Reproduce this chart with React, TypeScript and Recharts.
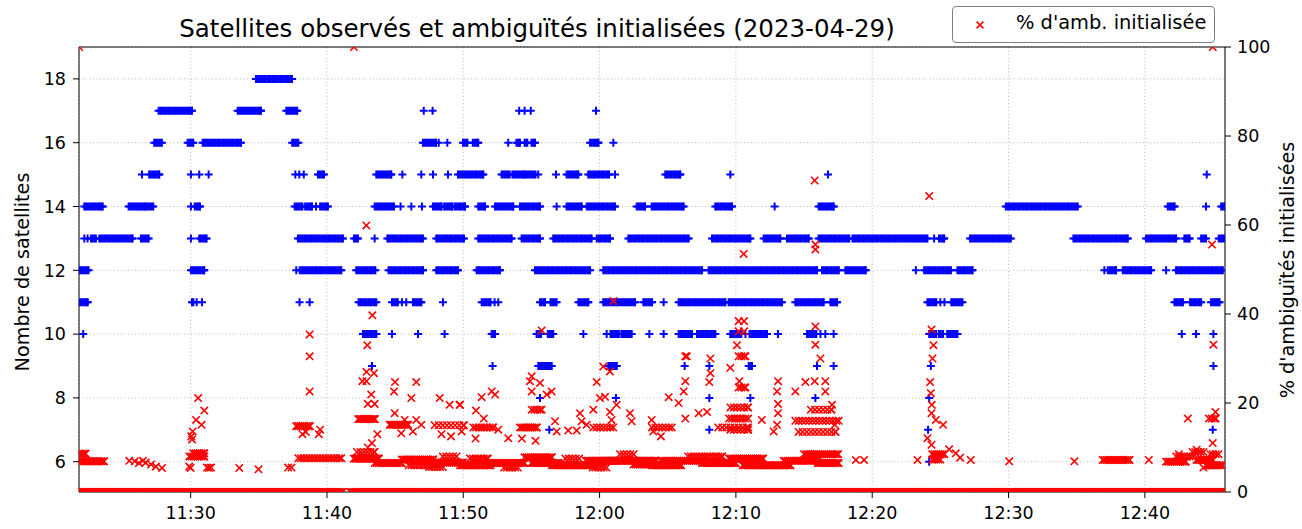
import { ScatterChart, Scatter, XAxis, YAxis, CartesianGrid, Legend, ReferenceLine } from 'recharts'

// time is in minutes after 11:00; a pair is a run of consecutive epochs
type Run = number | [number, number]

const sat6: Run[] = [55.63, 84.18]
const sat7: Run[] = [56.31, 68.05, 84.1, 104.98]
const sat8: Run[] = [55.63, 61.2, 68.05, 71.06, 75.83, 84.18]
const sat9: Run[] = [43.3, 52.15, [55.5, 56.48], [60.64, 61.25], 66.24, 68.05, [70.94, 71.18], 75.95, 77.17, 84.3, 105.03]
const sat10: Run[] = [
  22.12, [42.64, 43.62], 44.77, 46.68, 48.63, [52.08, 52.33], [55.38, 55.7], [56.2, 56.6], 58.81, 60.52,
  [60.8, 61.4], [61.6, 62.35], 63.65, 64.7, [65.8, 66.78], [67.15, 68.49], [69.59, 70.4], 70.7, [71.0, 72.28],
  73.09, [75.22, 75.9], 76.2, 76.56, 77.17, [84.18, 84.7], [84.9, 85.2], [85.5, 86.25], 102.71, 103.76, 105.03,
]
const sat11: Run[] = [
  [21.83, 22.44], [30.1, 30.2], 30.44, 30.83, 37.99, 38.73, [42.32, 43.62], [44.77, 45.2], 45.5, 45.82,
  [46.31, 46.92], 48.51, [51.35, 52.0], 52.3, 52.57, [55.63, 56.0], [56.4, 56.85], [58.44, 59.17], [60.27, 62.6],
  [63.21, 63.85], 64.7, [65.8, 69.23], [69.47, 73.38], [74.36, 76.44], [76.93, 77.42], [84.05, 84.7], 85.0, 85.3,
  [85.8, 86.62], [102.17, 102.78], [103.32, 104.13], [104.86, 105.47],
]
const sat12: Run[] = [
  [21.83, 22.51], [30.02, 31.0], 37.75, [38.0, 41.05], [42.15, 43.55], [44.52, 47.04], [48.02, 49.61],
  [50.98, 52.69], [55.26, 59.3], [60.27, 67.51], [68.0, 75.95], [76.32, 77.54], [78.03, 79.53], 83.2,
  [83.81, 85.77], [86.25, 87.36], 97.03, [97.28, 97.89], [98.38, 100.46], 101.56, [102.29, 105.72],
]
const sat13: Run[] = [
  22.2, 22.44, [22.69, 23.05], [23.3, 25.74], [26.35, 26.92], 30.02, [30.63, 31.17], [37.87, 41.17],
  [41.98, 42.27], 43.5, [44.43, 47.04], [48.02, 50.05], [51.1, 53.55], [54.28, 55.63], [56.6, 59.42],
  [59.79, 60.76], [62.11, 66.54], [68.25, 71.06], [72.04, 73.26], [73.75, 75.34], [76.07, 78.31],
  [78.55, 84.05], 84.54, [84.9, 85.28], [87.18, 90.17], [94.76, 98.74], [100.09, 102.29], [102.9, 103.27],
  [104.13, 104.49], [105.42, 105.9],
]
const sat14: Run[] = [
  [22.2, 23.54], [25.45, 26.6], [26.67, 27.26], 30.02, [30.3, 30.68], [37.63, 38.2], [38.4, 38.9], 39.2,
  [39.5, 40.07], [43.5, 44.92], 45.4, 46.19, 46.97, [47.78, 48.4], [48.6, 49.2], [49.4, 50.12], [51.1, 51.59],
  [52.33, 53.67], [54.16, 55.63], 56.85, [57.58, 58.68], [59.05, 61.13], [62.72, 63.33], [63.82, 66.17],
  [68.49, 69.71], 72.84, [76.07, 77.17], [89.8, 95.08], [101.68, 102.17], 104.49, [105.6, 105.9],
]
const sat15: Run[] = [
  26.43, [26.96, 27.7], 30.02, 30.63, 31.32, 37.68, 37.97, 38.3, [39.34, 39.78], [43.62, 44.72], 45.53, 46.92,
  47.78, 48.88, [49.61, 51.47], [52.81, 53.4], [53.6, 54.5], [54.6, 55.3], 55.5, 56.8, [57.58, 58.44],
  [59.17, 60.7], 61.13, [64.82, 65.92], 69.59, 76.76, 104.54,
]
const sat16: Run[] = [
  [27.33, 27.89], [29.78, 30.19], [30.88, 33.69], [37.45, 37.9], [47.04, 48.0], 48.2, 48.83, [49.98, 50.3],
  [50.7, 51.1], 53.3, [53.9, 54.15], [54.5, 54.7], [55.0, 55.25], [59.3, 59.91], 61.01,
]
const sat17: Run[] = [[27.65, 30.1], [33.45, 35.16], [37.02, 37.82], 47.1, 47.75, 54.1, 54.5, 54.95, 59.74]
const sat18: Run[] = [[34.79, 37.43]]

const satLevels: [number, Run[]][] = [
  [6, sat6], [7, sat7], [8, sat8], [9, sat9], [10, sat10], [11, sat11], [12, sat12],
  [13, sat13], [14, sat14], [15, sat15], [16, sat16], [17, sat17], [18, sat18],
]

// % of ambiguities initialised
const ambZero: [number, number][] = [[21.81, 41.15], [41.7, 105.9]]
const amb100: number[] = [21.83, 41.98, 104.98]
// [start, end, pct, spacing]
const ambRuns: [number, number, number, number][] = [
  [21.83, 22.3, 8.6, 0.12], [21.9, 23.65, 6.9, 0.12],
  [29.9, 31.0, 8.0, 0.15], [30.2, 31.0, 8.7, 0.15],
  [37.9, 41.05, 7.6, 0.2], [37.75, 38.75, 14.8, 0.15], [42.3, 43.5, 16.4, 0.12], [42.2, 43.5, 9.0, 0.25],
  [41.98, 43.8, 7.5, 0.12], [43.5, 45.5, 6.5, 0.15], [44.6, 45.95, 15.1, 0.12], [45.5, 47.8, 7.3, 0.15],
  [46.0, 47.5, 6.0, 0.2], [47.8, 50.0, 6.6, 0.15], [47.5, 48.5, 5.6, 0.2], [47.9, 50.05, 15.0, 0.3],
  [48.5, 49.5, 8.0, 0.25],
  [50.74, 52.2, 14.5, 0.2], [55.02, 55.75, 18.5, 0.2], [54.16, 55.4, 14.5, 0.15], [59.54, 61.0, 14.5, 0.25],
  [49.76, 52.0, 6.0, 0.12], [50.5, 51.8, 7.5, 0.2], [51.8, 54.5, 6.5, 0.12], [53.0, 54.0, 5.5, 0.2],
  [54.5, 56.5, 7.8, 0.15], [55.0, 57.0, 6.5, 0.12], [56.5, 59.5, 6.0, 0.12], [57.5, 58.5, 7.5, 0.25],
  [59.0, 61.0, 7.0, 0.12], [59.5, 60.5, 5.5, 0.2], [60.5, 64.1, 7.0, 0.12], [61.5, 62.5, 8.5, 0.25],
  [62.5, 64.1, 6.2, 0.15],
  [70.2, 70.7, 30.5, 0.2], [70.2, 70.7, 23.5, 0.2], [69.6, 70.9, 19.0, 0.25], [69.5, 70.9, 16.5, 0.2],
  [69.6, 70.9, 14.0, 0.25], [63.85, 65.3, 14.5, 0.25], [68.7, 70.9, 14.5, 0.3], [74.36, 77.54, 16.0, 0.25],
  [74.6, 77.3, 13.5, 0.3], [75.5, 77.0, 18.5, 0.3],
  [63.85, 66.0, 6.0, 0.12], [64.5, 67.5, 7.0, 0.15], [66.5, 69.0, 8.0, 0.2], [67.5, 70.0, 6.5, 0.12],
  [69.5, 72.0, 7.5, 0.15], [70.5, 74.0, 6.0, 0.12], [73.5, 76.0, 7.0, 0.15], [75.0, 77.5, 8.5, 0.15],
  [76.0, 77.54, 6.5, 0.12],
  [84.4, 85.3, 8.5, 0.15], [84.4, 85.0, 7.3, 0.15],
  [96.91, 98.87, 7.2, 0.15], [101.56, 103.0, 6.8, 0.15], [102.3, 103.5, 8.0, 0.2], [103.5, 104.3, 9.0, 0.2],
  [103.8, 105.0, 7.2, 0.12], [104.5, 105.7, 6.0, 0.12], [104.8, 105.4, 8.5, 0.2], [104.7, 105.2, 16.5, 0.2],
]
const ambPoints: [number, number][] = [
  [25.5, 7.0], [25.9, 6.9], [26.2, 6.5], [26.5, 7.0], [26.7, 6.6], [27.1, 6.2], [27.45, 5.7], [27.9, 5.4],
  [29.9, 5.7], [30.0, 5.4], [30.05, 12.5], [30.15, 13.6], [30.1, 11.8], [30.4, 16.2], [30.55, 21.1],
  [30.8, 15.1], [31.0, 18.3], [31.2, 5.5], [31.35, 5.4], [31.5, 5.5], [33.57, 5.4], [34.98, 5.1],
  [37.15, 5.5], [37.4, 5.5], [38.2, 13.0], [38.45, 13.5], [39.4, 13.0], [39.5, 14.0], [38.73, 35.4],
  [38.73, 30.5], [38.73, 22.6], [42.89, 59.9], [43.33, 39.7], [42.96, 33.0], [43.45, 26.7], [42.9, 27.0],
  [42.6, 24.9], [42.9, 24.9], [43.25, 21.9], [43.0, 19.8], [43.5, 19.8], [43.7, 13.0], [43.3, 11.0],
  [42.6, 8.0], [43.0, 10.0], [44.99, 24.7], [44.92, 22.6], [46.55, 24.7], [46.19, 21.1], [44.97, 17.7],
  [45.7, 16.2], [46.55, 16.2], [46.92, 15.1], [45.45, 13.2], [46.31, 13.6], [48.27, 21.1], [49.0, 19.6],
  [49.73, 19.6], [48.4, 13.0], [49.1, 12.5],
  [49.76, 19.6], [49.88, 13.6], [50.93, 18.3], [51.35, 21.3], [52.08, 22.6], [52.33, 21.9], [50.9, 12.0],
  [51.5, 16.5], [52.57, 14.0], [53.3, 12.1], [55.02, 26.0], [54.89, 24.9], [55.63, 24.5], [55.02, 22.6],
  [56.48, 22.6], [56.12, 21.9], [54.3, 12.0], [55.3, 11.5], [55.75, 36.3], [56.73, 15.9], [56.85, 13.6],
  [57.7, 13.8], [58.32, 13.8], [58.56, 17.7], [58.68, 15.9], [59.05, 15.1], [59.79, 24.7], [59.54, 18.5],
  [60.03, 21.1], [60.4, 21.4], [60.27, 28.2], [60.76, 27.1], [61.01, 42.9], [60.76, 18.0], [60.88, 16.2],
  [61.25, 19.6], [62.23, 17.7], [62.35, 15.9], [63.82, 16.2], [63.94, 13.6],
  [75.78, 70.0], [75.83, 55.6], [75.83, 54.5], [70.57, 53.5], [70.2, 38.4], [70.6, 38.4], [70.2, 36.1],
  [70.6, 36.1], [75.83, 37.2], [75.83, 33.1], [76.2, 30.0], [66.29, 30.5], [66.4, 30.5], [68.13, 30.0],
  [68.13, 26.7], [68.05, 24.7], [70.08, 33.0], [70.25, 24.9], [69.59, 27.9], [66.29, 24.9], [66.17, 22.6],
  [65.07, 21.3], [65.8, 20.0], [73.09, 24.9], [73.02, 22.6], [73.09, 19.8], [73.09, 17.7], [74.36, 22.6],
  [75.1, 24.7], [75.78, 24.9], [76.56, 24.9], [76.56, 22.6], [77.05, 19.6], [77.25, 15.1], [64.5, 12.5],
  [66.29, 16.5], [67.27, 17.7], [67.88, 18.0], [71.9, 16.2], [72.77, 13.6], [73.02, 15.1],
  [84.18, 66.5], [84.35, 36.5], [84.49, 33.0], [84.42, 30.0], [84.25, 24.7], [84.3, 22.2], [84.37, 19.6],
  [84.35, 17.7], [84.67, 16.2], [85.2, 15.1], [84.05, 12.1], [84.35, 10.6], [85.64, 9.6], [86.13, 8.7],
  [86.45, 7.7], [87.23, 7.2], [78.8, 7.2], [79.4, 7.2], [83.32, 7.2], [90.05, 6.9],
  [104.93, 55.6], [105.03, 33.1], [103.15, 16.5], [105.18, 18.0], [104.98, 11.0], [94.83, 6.9],
  [100.29, 7.2], [104.3, 5.5], [102.5, 8.5], [103.8, 9.5],
]

const xTicks = [30, 40, 50, 60, 70, 80, 90, 100]
const leftTicks = [6, 8, 10, 12, 14, 16, 18]
const rightTicks = [0, 20, 40, 60, 80, 100]

const EPOCH = 0.12

function spread(a: number, b: number, step: number) {
  const out: number[] = []
  for (let t = a; t < b; t += step) out.push(t)
  out.push(b)
  return out
}

const satData: { t: number; n: number }[] = []
satLevels.forEach(([n, runs]) => {
  runs.forEach((r) => {
    if (typeof r === 'number') satData.push({ t: r, n })
    else spread(r[0], r[1], EPOCH).forEach((t) => satData.push({ t, n }))
  })
})

const ambData: { t: number; p: number }[] = []
ambZero.forEach(([a, b]) => spread(a, b, EPOCH).forEach((t) => ambData.push({ t, p: 0 })))
ambRuns.forEach(([a, b, p, s]) => spread(a, b, s).forEach((t) => ambData.push({ t, p })))
ambPoints.forEach(([t, p]) => ambData.push({ t, p }))
amb100.forEach((t) => ambData.push({ t, p: 100 }))

const FONT = '"DejaVu Sans", sans-serif'

const fmtTime = (m: number) => {
  const h = 11 + Math.floor(m / 60)
  const mm = Math.round(m % 60)
  return `${h}:${mm < 10 ? '0' : ''}${mm}`
}

const Plus = (props: any) => {
  const { cx, cy } = props
  if (cx == null || cy == null) return null
  const s = 4
  return <path d={`M${cx - s},${cy}H${cx + s}M${cx},${cy - s}V${cy + s}`} stroke="#0000ff" strokeWidth={2} fill="none" />
}

const Cross = (props: any) => {
  const { cx, cy } = props
  if (cx == null || cy == null) return null
  const s = 3.7
  return <path d={`M${cx - s},${cy - s}L${cx + s},${cy + s}M${cx - s},${cy + s}L${cx + s},${cy - s}`} stroke="#ff0000" strokeWidth={1.6} fill="none" />
}

const LegendBox = () => (
  <div style={{
    width: 261, height: 35, border: '1px solid #7f7f7f', borderRadius: 4, background: '#fff',
    position: 'relative', fontFamily: FONT, fontSize: 19.4, color: '#000',
  }}>
    <svg width={14} height={14} style={{ position: 'absolute', left: 20, top: 11 }}>
      <path d="M3.6,3.6L10.4,10.4M3.6,10.4L10.4,3.6" stroke="#ff0000" strokeWidth={1.5} />
    </svg>
    <span style={{ position: 'absolute', left: 63, top: 4, whiteSpace: 'nowrap' }}>% d'amb. initialisée</span>
  </div>
)

export default function App() {
  const tick = { fontSize: 17.5, fill: '#000', fontFamily: FONT }
  return (
    <div style={{ position: 'absolute', left: 0, top: 0, width: 1302, height: 529, background: '#fff' }}>
      <div style={{
        position: 'absolute', left: 0, width: 1074, top: 14, textAlign: 'center',
        fontFamily: FONT, fontSize: 24.5, color: '#000', whiteSpace: 'nowrap',
      }}>
        Satellites observés et ambiguïtés initialisées (2023-04-29)
      </div>
      <ScatterChart width={1302} height={529} margin={{ top: 47, right: 0, bottom: 0, left: 0 }}>
        <CartesianGrid yAxisId="left" stroke="#b0b0b0" strokeDasharray="1 2.5" strokeWidth={0.9} />
        <XAxis
          type="number" dataKey="t" domain={[21.81, 105.88]} ticks={xTicks} tickFormatter={fmtTime}
          allowDataOverflow height={37} tick={tick} tickSize={6} tickMargin={9}
          stroke="#000" tickLine={{ stroke: '#000' }}
        />
        <YAxis
          yAxisId="left" type="number" dataKey="n" domain={[5.05, 19]} ticks={leftTicks}
          allowDataOverflow width={79} tick={tick} tickSize={6} tickMargin={7} stroke="#000"
          label={() => (
            <text x={22} y={272} transform="rotate(-90 22 272)" textAnchor="middle" dominantBaseline="central"
              style={{ fontSize: 19.2, fontFamily: FONT }} fill="#000">Nombre de satellites</text>
          )}
        />
        <YAxis
          yAxisId="right" orientation="right" type="number" dataKey="p" domain={[0, 100]} ticks={rightTicks}
          allowDataOverflow width={77} tick={tick} tickSize={6} tickMargin={6} stroke="#000"
          label={() => (
            <text x={1287} y={270} transform="rotate(-90 1287 270)" textAnchor="middle" dominantBaseline="central"
              style={{ fontSize: 19.2, fontFamily: FONT }} fill="#000">% d'ambiguïtés initialisées</text>
          )}
        />
        <ReferenceLine yAxisId="left" y={19} stroke="#000" strokeWidth={1.2} />
        <Scatter yAxisId="left" data={satData} shape={Plus} isAnimationActive={false} />
        <Scatter yAxisId="right" data={ambData} shape={Cross} isAnimationActive={false} />
        <Legend
          layout="vertical" align="center" verticalAlign="middle" content={<LegendBox />}
          wrapperStyle={{ left: 952, top: 6, width: 263, height: 37 }}
        />
      </ScatterChart>
    </div>
  )
}
